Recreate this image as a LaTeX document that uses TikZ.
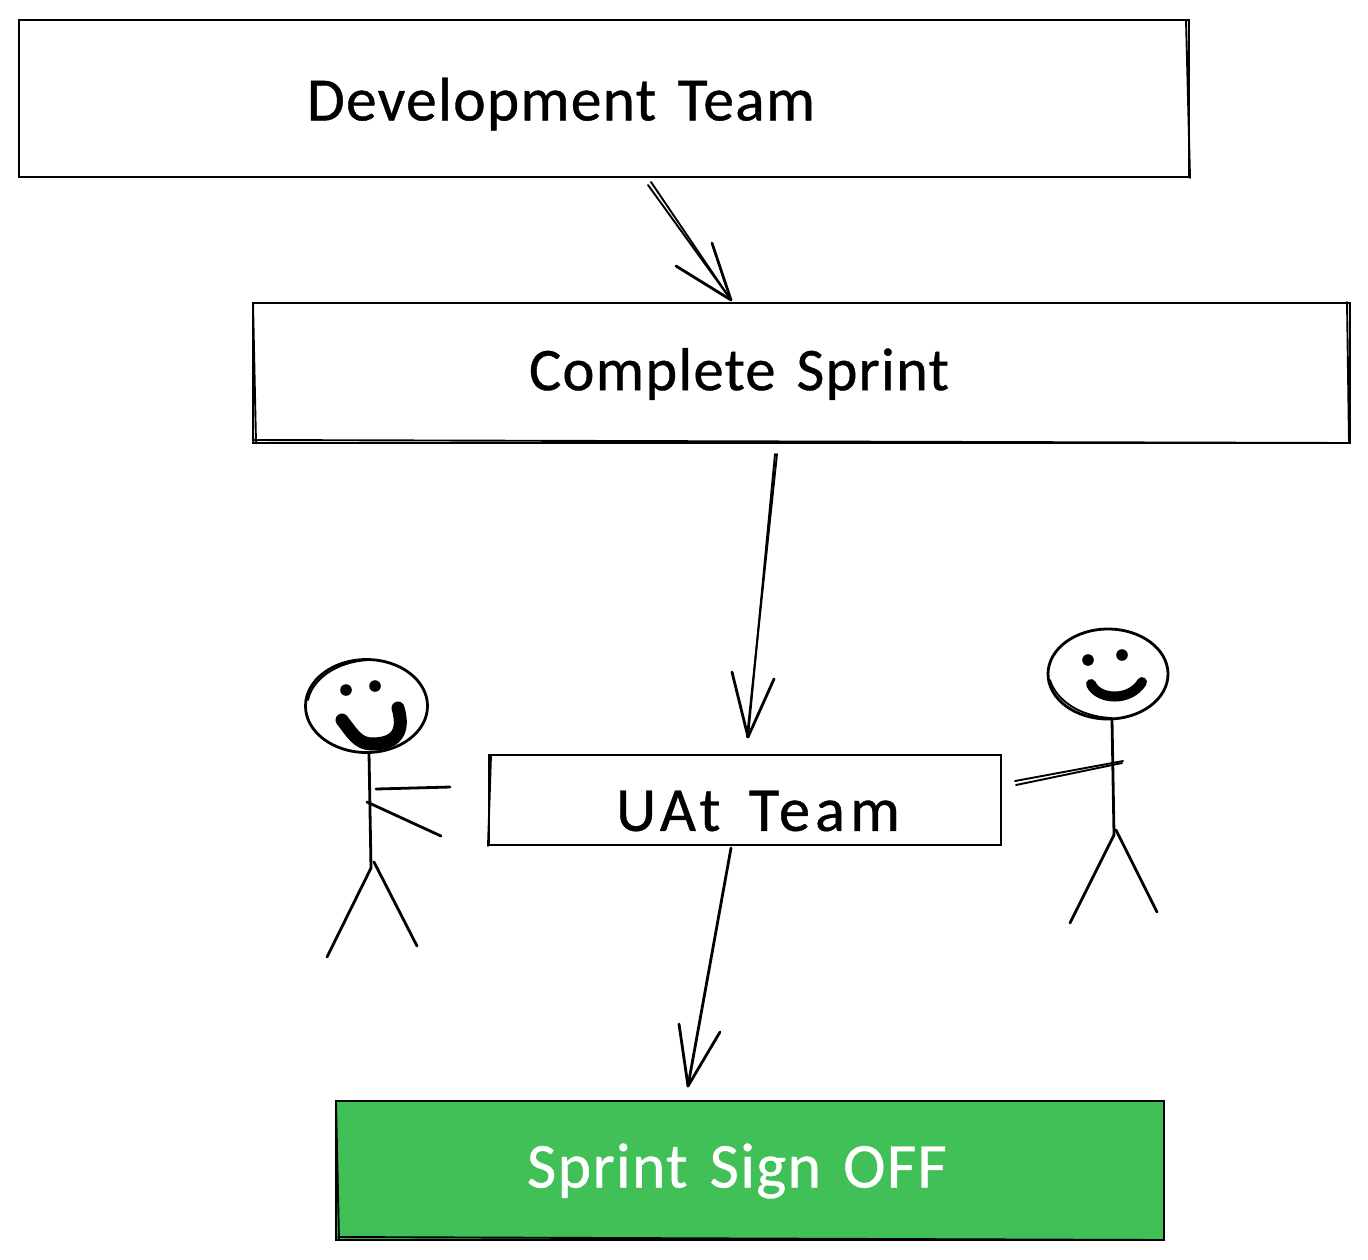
\documentclass[tikz,border=0pt]{standalone}
\usepackage{fontspec}
\usetikzlibrary{calc,shapes.geometric}
\setmainfont{Carlito}
\begin{document}
\begin{tikzpicture}[x=0.5pt,y=-0.5pt,
  ink/.style={line width=1.4pt,draw=black,line cap=round,line join=round},
  thin ink/.style={line width=0.95pt,draw=black,line cap=round,line join=round},
  boxnode/.style={rectangle,draw=black,line width=1.4pt,inner sep=0pt,outer sep=0pt},
  labeltext/.style={inner sep=0pt,outer sep=0pt,text=black},
  headnode/.style={ellipse,draw=black,line width=1.4pt,inner sep=0pt,outer sep=0pt},
  eyenode/.style={circle,fill=black,inner sep=0pt,minimum size=5.8pt},
  smile/.style={line width=5pt,draw=black,line cap=round,line join=round},
  bigsmile/.style={line width=6.5pt,draw=black,line cap=round,line join=round},
]
\useasboundingbox (0,0) rectangle (1368,1259);
% boxes
\node[boxnode,minimum width=585pt,minimum height=78.5pt] (dev) at (604,98.5) {};
\node[boxnode,minimum width=548.5pt,minimum height=70pt] (sprint) at (801.5,373) {};
\node[boxnode,minimum width=256pt,minimum height=45pt] (uat) at (745,800) {};
\node[boxnode,fill={rgb,255:red,64;green,192;blue,87},minimum width=414pt,minimum height=69.5pt] (signoff) at (750,1170.5) {};
% sketch second strokes
\draw[thin ink] (1186,20)--(1190,178);
\draw[thin ink] (253,303)--(256,443);
\draw[thin ink] (1347,302)--(1349,443);
\draw[thin ink] (254,440)--(1350,443);
\draw[thin ink] (491,755)--(488,846);
\draw[thin ink] (336,1103)--(339,1240);
\draw[thin ink] (338,1237)--(1164,1240);
% labels
\node[labeltext] (devlabel) at (561,104) {\resizebox{254pt}{!}{\addfontfeature{LetterSpace=2,FakeBold=0.6}Development\hspace{.1em} Team}};
\node[labeltext] (sprintlabel) at (739,374) {\resizebox{210pt}{!}{\addfontfeature{LetterSpace=2,FakeBold=0.6}Complete\hspace{.1em} Sprint}};
\node[labeltext] (uatlabel) at (758,811) {\resizebox{142pt}{!}{\addfontfeature{LetterSpace=8,FakeBold=0.6}UAt\hspace{.15em} Team}};
\node[labeltext,text=white] (signlabel) at (737,1171) {\resizebox{210pt}{!}{\addfontfeature{LetterSpace=2,FakeBold=0.6}Sprint\hspace{.1em} Sign\hspace{.1em} OFF}};
% connector ends
\coordinate (a1s) at (651,182); \coordinate (a1e) at (731,300);
\coordinate (a1b) at (676,266); \coordinate (a1c) at (712,243);
\coordinate (a2s) at (775,454); \coordinate (a2e) at (748,737);
\coordinate (a2b) at (732,672); \coordinate (a2c) at (774,679);
\coordinate (a3s) at (731,848); \coordinate (a3e) at (688,1086);
\coordinate (a3b) at (679,1024); \coordinate (a3c) at (720,1032);
% connectors
\draw[thin ink] (a1s)--(a1e);
\draw[thin ink] ($(a1s)+(-3,3)$)--(a1e);
\draw[ink] (a1b)--(a1e)--(a1c);
\draw[thin ink] (a2s)--(a2e);
\draw[thin ink] ($(a2s)+(2,0)$)--($(a2e)+(-1,0)$);
\draw[ink] (a2b)--(a2e)--(a2c);
\draw[ink] (a3s)--(a3e);
\draw[ink] (a3b)--(a3e)--(a3c);
% left figure
\node[headnode,minimum width=61pt,minimum height=46.5pt] (lhead) at (366.5,706) {};
\draw[thin ink] (308,700) .. controls (312,680) and (335,662) .. (368,660);
\node[eyenode] (leye1) at (346,690) {};
\node[eyenode] (leye2) at (375,686) {};
\draw[bigsmile] (342,720) .. controls (352,733) and (358,744) .. (372,744) .. controls (396,744) and (405,732) .. (398,708);
\coordinate (lneck) at (369,753); \coordinate (lhip) at (371,868);
\draw[ink] (lneck)--(lhip);
\draw[ink] (lhip)--(327,957);
\draw[ink] (374,862)--(417,946);
\draw[ink] (376,789)--(450,787);
\draw[ink] (367,802)--(441,836);
% right figure
\node[headnode,minimum width=60pt,minimum height=45pt] (rhead) at (1108,674) {};
\draw[thin ink] (1050,680) .. controls (1056,700) and (1080,717) .. (1112,718);
\node[eyenode] (reye1) at (1088,660) {};
\node[eyenode] (reye2) at (1122,655) {};
\draw[smile] (1091,684) .. controls (1098,700) and (1130,702) .. (1142,682);
\coordinate (rneck) at (1112,720); \coordinate (rhip) at (1114,835);
\draw[ink] (rneck)--(rhip);
\draw[ink] (rhip)--(1070,923);
\draw[ink] (1116,830)--(1157,912);
\draw[thin ink] (1015,781)--(1123,761);
\draw[thin ink] (1016,785)--(1122,763);
\end{tikzpicture}
\end{document}
